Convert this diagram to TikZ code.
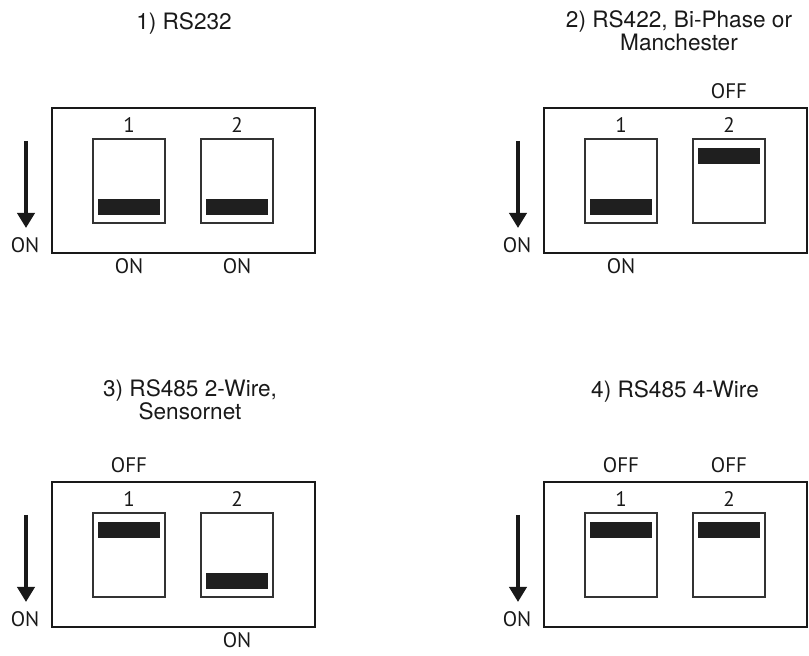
\documentclass[tikz,border=0pt]{standalone}
\usepackage{fontspec}
\setmainfont{TeX Gyre Heros}
\newfontfamily\labelfont{PT Sans}
\usetikzlibrary{arrows.meta}

\begin{document}
\begin{tikzpicture}[x=0.5pt,y=-0.5pt,
  panel/.style={draw=black!90,line width=1.2pt},
  switchbox/.style={draw=black!80,line width=0.8pt},
  lever/.style={fill=black!88},
  title/.style={font=\fontsize{11.3}{11.5}\selectfont,align=center,text=black!90,anchor=base,inner sep=0pt},
  tag/.style={font=\labelfont\fontsize{10.5}{11}\selectfont,inner sep=0pt,text=black!90,anchor=base},
  onarrow/.style={draw=black!90,line width=2.2pt,-{Triangle[width=8.5pt,length=7.5pt]}}]
  \useasboundingbox (0,0) rectangle (809,656);
  % titles (two-line ones sit on their last line)
  \node[title] (t1) at (184,30) {1) RS232};
  \node[title] (t2) at (679,51) {2) RS422, Bi-Phase or\\Manchester};
  \node[title] (t3) at (190,420) {3) RS485 2-Wire,\\Sensornet};
  \node[title] (t4) at (675,398) {4) RS485 4-Wire};
  % panels: number / box corner / switch states (1 = OFF)
  \foreach \p/\bx/\by/\sa/\sb in {1/52/108/0/0, 2/544/108/0/1, 3/52/482/1/0, 4/544/482/1/1}{
    \draw[panel] (\bx,\by) rectangle ++(263,145);
    \coordinate (arr\p a) at (\bx-26,\by+33);
    \coordinate (arr\p b) at (\bx-26,\by+120);
    \draw[onarrow] (arr\p a) -- (arr\p b);
    \node[tag] (on\p) at (\bx-27,\by+145) {ON};
    \foreach \k/\s/\sx in {1/\sa/41, 2/\sb/149}{
      \draw[switchbox] (\bx+\sx,\by+31) rectangle ++(72,84);
      \node[tag] (num\p\k) at (\bx+\sx+36,\by+25) {\k};
      \ifnum\s=1
        \fill[lever] (\bx+\sx+5,\by+40) rectangle ++(62,16);
        \node[tag] (st\p\k) at (\bx+\sx+36,\by-9) {OFF};
      \else
        \fill[lever] (\bx+\sx+5,\by+91) rectangle ++(62,16);
        \node[tag] (st\p\k) at (\bx+\sx+36,\by+166) {ON};
      \fi
    }
  }
\end{tikzpicture}
\end{document}
